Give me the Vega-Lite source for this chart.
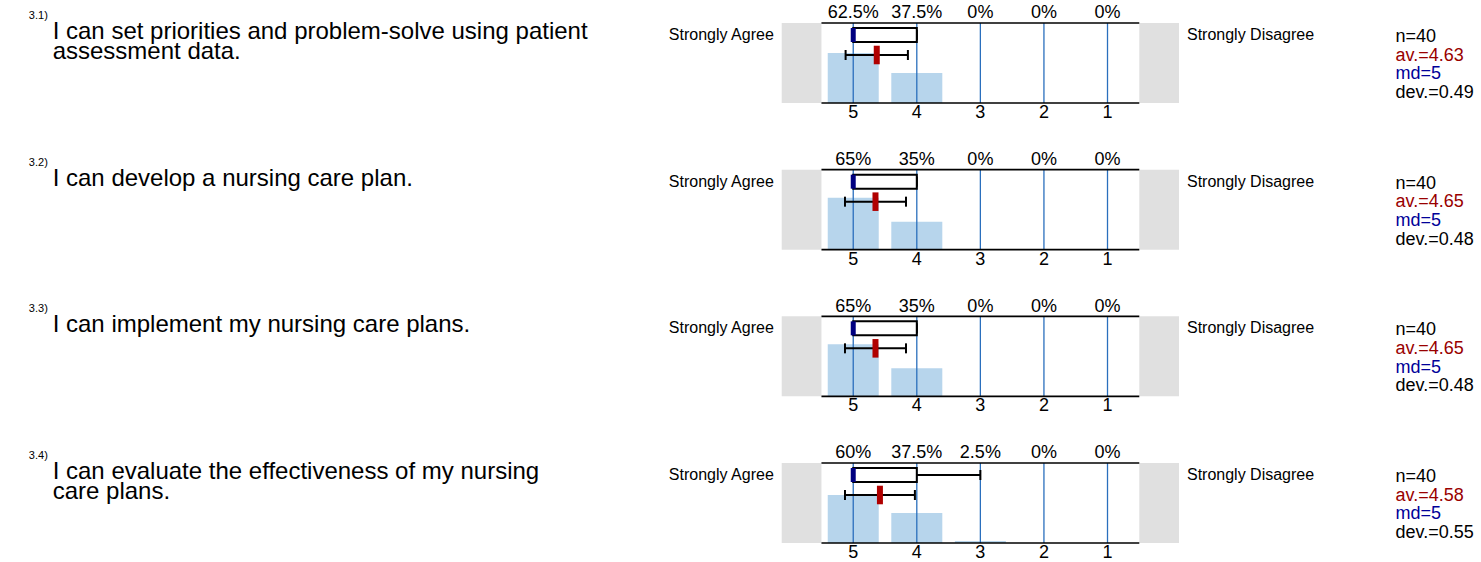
{
  "$schema": "https://vega.github.io/schema/vega-lite/v6.json",
  "padding": 0,
  "background": "white",
  "bounds": "flush",
  "config": {"view": {"stroke": null}, "font": "Liberation Sans", "text": {"font": "Liberation Sans"}},
  "data": {
    "values": [
      {"kind": "dist", "q": "3.1", "rating": 5, "pct": 0.625},
      {"kind": "dist", "q": "3.1", "rating": 4, "pct": 0.375},
      {"kind": "dist", "q": "3.1", "rating": 3, "pct": 0},
      {"kind": "dist", "q": "3.1", "rating": 2, "pct": 0},
      {"kind": "dist", "q": "3.1", "rating": 1, "pct": 0},
      {"kind": "dist", "q": "3.2", "rating": 5, "pct": 0.65},
      {"kind": "dist", "q": "3.2", "rating": 4, "pct": 0.35},
      {"kind": "dist", "q": "3.2", "rating": 3, "pct": 0},
      {"kind": "dist", "q": "3.2", "rating": 2, "pct": 0},
      {"kind": "dist", "q": "3.2", "rating": 1, "pct": 0},
      {"kind": "dist", "q": "3.3", "rating": 5, "pct": 0.65},
      {"kind": "dist", "q": "3.3", "rating": 4, "pct": 0.35},
      {"kind": "dist", "q": "3.3", "rating": 3, "pct": 0},
      {"kind": "dist", "q": "3.3", "rating": 2, "pct": 0},
      {"kind": "dist", "q": "3.3", "rating": 1, "pct": 0},
      {"kind": "dist", "q": "3.4", "rating": 5, "pct": 0.6},
      {"kind": "dist", "q": "3.4", "rating": 4, "pct": 0.375},
      {"kind": "dist", "q": "3.4", "rating": 3, "pct": 0.025},
      {"kind": "dist", "q": "3.4", "rating": 2, "pct": 0},
      {"kind": "dist", "q": "3.4", "rating": 1, "pct": 0},
      {"kind": "item", "q": "3.1", "num": "3.1)", "text": ["I can set priorities and problem-solve using patient", "assessment data."], "left": "Strongly Agree", "right": "Strongly Disagree", "n": "n=40", "av": "av.=4.63", "md": "md=5", "dev": "dev.=0.49", "mean": 4.63, "median": 5, "q1": 4, "q3": 5, "min": 4, "lo": 4.14, "hi": 5.12},
      {"kind": "item", "q": "3.2", "num": "3.2)", "text": ["I can develop a nursing care plan."], "left": "Strongly Agree", "right": "Strongly Disagree", "n": "n=40", "av": "av.=4.65", "md": "md=5", "dev": "dev.=0.48", "mean": 4.65, "median": 5, "q1": 4, "q3": 5, "min": 4, "lo": 4.17, "hi": 5.13},
      {"kind": "item", "q": "3.3", "num": "3.3)", "text": ["I can implement my nursing care plans."], "left": "Strongly Agree", "right": "Strongly Disagree", "n": "n=40", "av": "av.=4.65", "md": "md=5", "dev": "dev.=0.48", "mean": 4.65, "median": 5, "q1": 4, "q3": 5, "min": 4, "lo": 4.17, "hi": 5.13},
      {"kind": "item", "q": "3.4", "num": "3.4)", "text": ["I can evaluate the effectiveness of my nursing", "care plans."], "left": "Strongly Agree", "right": "Strongly Disagree", "n": "n=40", "av": "av.=4.58", "md": "md=5", "dev": "dev.=0.55", "mean": 4.58, "median": 5, "q1": 4, "q3": 5, "min": 3, "lo": 4.03, "hi": 5.13}
    ]
  },
  "facet": {"row": {"field": "q", "type": "nominal", "header": null}},
  "spacing": {"row": 24.667},
  "spec": {
    "width": 1481,
    "height": 122,
    "layer": [
      {
        "transform": [{"filter": "datum.kind === 'item'"}],
        "mark": {"type": "rect", "color": "#e0e0e0"},
        "encoding": {
          "x": {"datum": 6.125, "type": "quantitative", "scale": {"domain": [-4.796875, 18.34375], "reverse": true, "nice": false, "zero": false}, "axis": null},
          "x2": {"datum": 5.5},
          "y": {"datum": 0, "type": "quantitative", "scale": {"domain": [-0.2375, 1.2875], "nice": false, "zero": false}, "axis": null},
          "y2": {"datum": 1}
        }
      },
      {
        "transform": [{"filter": "datum.kind === 'item'"}],
        "mark": {"type": "rect", "color": "#e0e0e0"},
        "encoding": {
          "x": {"datum": 0.5, "type": "quantitative"},
          "x2": {"datum": -0.125},
          "y": {"datum": 0, "type": "quantitative"},
          "y2": {"datum": 1}
        }
      },
      {
        "transform": [{"filter": "datum.kind === 'dist'"}],
        "mark": {"type": "bar", "color": "#b7d5ec", "width": 51},
        "encoding": {
          "x": {"field": "rating", "type": "quantitative"},
          "y": {"field": "pct", "type": "quantitative"},
          "y2": {"datum": 0}
        }
      },
      {
        "transform": [{"filter": "datum.kind === 'dist'"}],
        "mark": {"type": "rule", "color": "#2a6fbd", "strokeWidth": 1.3},
        "encoding": {
          "x": {"field": "rating", "type": "quantitative"},
          "y": {"datum": 0, "type": "quantitative"},
          "y2": {"datum": 1}
        }
      },
      {
        "transform": [{"filter": "datum.kind === 'item'"}],
        "mark": {"type": "rule", "color": "#000000", "strokeWidth": 1.6},
        "encoding": {
          "x": {"datum": 5.5, "type": "quantitative"},
          "x2": {"datum": 0.5},
          "y": {"datum": 1, "type": "quantitative"}
        }
      },
      {
        "transform": [{"filter": "datum.kind === 'item'"}],
        "mark": {"type": "rule", "color": "#000000", "strokeWidth": 1.6},
        "encoding": {
          "x": {"datum": 5.5, "type": "quantitative"},
          "x2": {"datum": 0.5},
          "y": {"datum": 0, "type": "quantitative"}
        }
      },
      {
        "transform": [{"filter": "datum.kind === 'item'"}],
        "mark": {"type": "rule", "color": "#000000", "strokeWidth": 2},
        "encoding": {
          "x": {"field": "q1", "type": "quantitative"},
          "x2": {"field": "min"},
          "y": {"datum": 0.85, "type": "quantitative"}
        }
      },
      {
        "transform": [{"filter": "datum.kind === 'item'"}],
        "mark": {"type": "rule", "color": "#000000", "strokeWidth": 2},
        "encoding": {
          "x": {"field": "min", "type": "quantitative"},
          "y": {"datum": 0.9125, "type": "quantitative"},
          "y2": {"datum": 0.7875}
        }
      },
      {
        "transform": [{"filter": "datum.kind === 'item'"}],
        "mark": {"type": "rect", "fill": "#ffffff", "stroke": "#000000", "strokeWidth": 2},
        "encoding": {
          "x": {"field": "q3", "type": "quantitative"},
          "x2": {"field": "q1"},
          "y": {"datum": 0.9375, "type": "quantitative"},
          "y2": {"datum": 0.7625}
        }
      },
      {
        "transform": [{"filter": "datum.kind === 'item'"}],
        "mark": {"type": "rule", "color": "#000080", "strokeWidth": 5},
        "encoding": {
          "x": {"field": "median", "type": "quantitative"},
          "y": {"datum": 0.9375, "type": "quantitative"},
          "y2": {"datum": 0.7625}
        }
      },
      {
        "transform": [{"filter": "datum.kind === 'item'"}],
        "mark": {"type": "rule", "color": "#000000", "strokeWidth": 2},
        "encoding": {
          "x": {"field": "lo", "type": "quantitative"},
          "x2": {"field": "hi"},
          "y": {"datum": 0.6, "type": "quantitative"}
        }
      },
      {
        "transform": [{"filter": "datum.kind === 'item'"}],
        "mark": {"type": "rule", "color": "#000000", "strokeWidth": 2},
        "encoding": {
          "x": {"field": "lo", "type": "quantitative"},
          "y": {"datum": 0.6625, "type": "quantitative"},
          "y2": {"datum": 0.5375}
        }
      },
      {
        "transform": [{"filter": "datum.kind === 'item'"}],
        "mark": {"type": "rule", "color": "#000000", "strokeWidth": 2},
        "encoding": {
          "x": {"field": "hi", "type": "quantitative"},
          "y": {"datum": 0.6625, "type": "quantitative"},
          "y2": {"datum": 0.5375}
        }
      },
      {
        "transform": [{"filter": "datum.kind === 'item'"}],
        "mark": {"type": "rule", "color": "#b00000", "strokeWidth": 6},
        "encoding": {
          "x": {"field": "mean", "type": "quantitative"},
          "y": {"datum": 0.716, "type": "quantitative"},
          "y2": {"datum": 0.484}
        }
      },
      {
        "transform": [{"filter": "datum.kind === 'dist'"}],
        "mark": {"type": "text", "fontSize": 18, "baseline": "alphabetic", "align": "center", "color": "#000000"},
        "encoding": {
          "x": {"field": "rating", "type": "quantitative"},
          "y": {"datum": 1.06, "type": "quantitative"},
          "text": {"field": "pct", "type": "quantitative", "format": ".3~%"}
        }
      },
      {
        "transform": [{"filter": "datum.kind === 'dist'"}],
        "mark": {"type": "text", "fontSize": 18, "baseline": "alphabetic", "align": "center", "color": "#000000"},
        "encoding": {
          "x": {"field": "rating", "type": "quantitative"},
          "y": {"datum": -0.1875, "type": "quantitative"},
          "text": {"field": "rating", "type": "nominal"}
        }
      },
      {
        "transform": [{"filter": "datum.kind === 'item'"}],
        "mark": {"type": "text", "fontSize": 16, "baseline": "alphabetic", "align": "right", "color": "#000000"},
        "encoding": {
          "x": {"datum": 6.25, "type": "quantitative"},
          "y": {"datum": 0.7875, "type": "quantitative"},
          "text": {"field": "left", "type": "nominal"}
        }
      },
      {
        "transform": [{"filter": "datum.kind === 'item'"}],
        "mark": {"type": "text", "fontSize": 16, "baseline": "alphabetic", "align": "left", "color": "#000000"},
        "encoding": {
          "x": {"datum": -0.25, "type": "quantitative"},
          "y": {"datum": 0.7875, "type": "quantitative"},
          "text": {"field": "right", "type": "nominal"}
        }
      },
      {
        "transform": [{"filter": "datum.kind === 'item'"}],
        "mark": {"type": "text", "fontSize": 11, "baseline": "alphabetic", "align": "left", "color": "#000000"},
        "encoding": {
          "x": {"datum": 17.96875, "type": "quantitative"},
          "y": {"datum": 1.05, "type": "quantitative"},
          "text": {"field": "num", "type": "nominal"}
        }
      },
      {
        "transform": [{"filter": "datum.kind === 'item'"}],
        "mark": {"type": "text", "fontSize": 24, "lineHeight": 19.5, "baseline": "alphabetic", "align": "left", "color": "#000000"},
        "encoding": {
          "x": {"datum": 17.59375, "type": "quantitative"},
          "y": {"datum": 0.8, "type": "quantitative"},
          "text": {"field": "text", "type": "nominal"}
        }
      },
      {
        "transform": [{"filter": "datum.kind === 'item'"}],
        "mark": {"type": "text", "fontSize": 18, "baseline": "alphabetic", "align": "left", "color": "#000000"},
        "encoding": {
          "x": {"datum": -3.53, "type": "quantitative"},
          "y": {"datum": 0.7625, "type": "quantitative"},
          "text": {"field": "n", "type": "nominal"}
        }
      },
      {
        "transform": [{"filter": "datum.kind === 'item'"}],
        "mark": {"type": "text", "fontSize": 18, "baseline": "alphabetic", "align": "left", "color": "#990000"},
        "encoding": {
          "x": {"datum": -3.53, "type": "quantitative"},
          "y": {"datum": 0.529, "type": "quantitative"},
          "text": {"field": "av", "type": "nominal"}
        }
      },
      {
        "transform": [{"filter": "datum.kind === 'item'"}],
        "mark": {"type": "text", "fontSize": 18, "baseline": "alphabetic", "align": "left", "color": "#000099"},
        "encoding": {
          "x": {"datum": -3.53, "type": "quantitative"},
          "y": {"datum": 0.295, "type": "quantitative"},
          "text": {"field": "md", "type": "nominal"}
        }
      },
      {
        "transform": [{"filter": "datum.kind === 'item'"}],
        "mark": {"type": "text", "fontSize": 18, "baseline": "alphabetic", "align": "left", "color": "#000000"},
        "encoding": {
          "x": {"datum": -3.53, "type": "quantitative"},
          "y": {"datum": 0.061, "type": "quantitative"},
          "text": {"field": "dev", "type": "nominal"}
        }
      }
    ]
  }
}
